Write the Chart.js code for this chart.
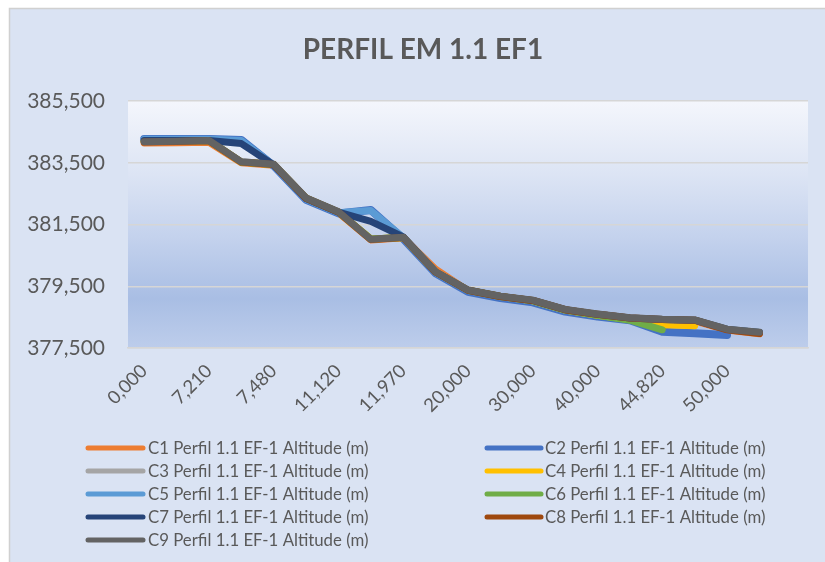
<!DOCTYPE html>
<html>
<head>
<meta charset="utf-8">
<script src="https://cdn.jsdelivr.net/npm/chart.js@4.4.0/dist/chart.umd.min.js"></script>
<style>
html,body{margin:0;padding:0;background:#fff;}
canvas{display:block;}
</style>
</head>
<body>
<canvas id="c" width="825" height="562"></canvas>
<script>
// ---- data ----
const categories = ["0,000","","7,210","","7,480","","11,120","","11,970","","20,000","","30,000","","40,000","","44,820","","50,000","",""];
const seriesNames = [
  "C1 Perfil 1.1 EF-1 Altitude (m)","C2 Perfil 1.1 EF-1 Altitude (m)","C3 Perfil 1.1 EF-1 Altitude (m)",
  "C4 Perfil 1.1 EF-1 Altitude (m)","C5 Perfil 1.1 EF-1 Altitude (m)","C6 Perfil 1.1 EF-1 Altitude (m)",
  "C7 Perfil 1.1 EF-1 Altitude (m)","C8 Perfil 1.1 EF-1 Altitude (m)","C9 Perfil 1.1 EF-1 Altitude (m)"
];
const seriesColors = ["#ED7D31","#4472C4","#A5A5A5","#FFC000","#5B9BD5","#70AD47","#264478","#9E480E","#636363"];
const C1 = [384.14,384.15,384.16,383.50,383.42,382.33,381.88,381.00,381.07,380.05,379.36,379.16,379.02,378.72,378.57,378.45,378.40,378.38,378.08,377.96,null];
const C2 = [384.27,384.27,384.27,384.24,383.40,382.30,381.86,381.97,381.04,379.92,379.32,379.12,378.98,378.68,378.52,378.40,378.03,377.98,377.92,null,null];
const C3 = [384.18,384.20,384.22,383.53,383.45,382.36,381.91,381.02,381.09,379.97,379.38,379.18,379.05,378.75,378.60,378.48,378.43,378.41,378.11,378.01,null];
const C4 = [384.20,384.21,384.22,383.52,383.44,382.35,381.90,381.03,381.08,379.96,379.37,379.17,379.03,378.73,378.56,378.42,378.25,378.22,null,null,null];
const C5 = [384.26,384.26,384.26,384.22,383.42,382.32,381.88,381.95,381.08,379.95,379.36,379.16,379.03,378.73,378.58,378.46,378.42,378.40,378.10,378.00,null];
const C6 = [384.20,384.21,384.22,383.52,383.44,382.35,381.90,381.03,381.08,379.96,379.37,379.17,379.03,378.73,378.56,378.40,378.09,null,null,null,null];
const C7 = [384.22,384.22,384.22,384.12,383.43,382.34,381.90,381.60,381.10,379.96,379.37,379.17,379.04,378.74,378.59,378.47,378.42,378.40,378.10,378.00,null];
const C8 = [384.17,384.19,384.21,383.52,383.44,382.35,381.90,381.01,381.08,379.96,379.37,379.17,379.04,378.74,378.59,378.47,378.42,378.40,378.09,377.97,null];
const C9 = [384.18,384.20,384.22,383.53,383.45,382.36,381.91,381.02,381.09,379.97,379.38,379.18,379.05,378.75,378.60,378.48,378.43,378.41,378.11,378.01,null];
const seriesValues = [C1,C2,C3,C4,C5,C6,C7,C8,C9];
const yMin = 377.5, yMax = 385.5, yStep = 2;
const titleText = "PERFIL EM 1.1 EF1";

const TEXT = "#595959";
const FONT = "Lato, 'Open Sans', sans-serif";

const bgPlugin = {
  id: 'bg',
  beforeDraw(chart) {
    const ctx = chart.ctx, a = chart.chartArea;
    ctx.save();
    ctx.fillStyle = '#ffffff';
    ctx.fillRect(0, 0, chart.width, chart.height);
    ctx.fillStyle = '#DAE3F3';
    ctx.fillRect(9, 8, chart.width, chart.height);
    ctx.strokeStyle = '#D0D0D0';
    ctx.lineWidth = 1.5;
    ctx.strokeRect(9.5, 8.5, chart.width + 10, chart.height + 10);
    const g = ctx.createLinearGradient(0, a.top, 0, a.bottom);
    g.addColorStop(0, '#F4F6FC');
    g.addColorStop(0.3, '#DCE4F4');
    g.addColorStop(0.55, '#C4D2ED');
    g.addColorStop(0.8, '#A9BEE4');
    g.addColorStop(1, '#BDCDEB');
    ctx.fillStyle = g;
    ctx.fillRect(a.left, a.top, a.right - a.left, a.bottom - a.top);
    // title
    ctx.fillStyle = TEXT;
    ctx.font = "bold 28px " + FONT;
    ctx.textAlign = 'center';
    ctx.textBaseline = 'middle';
    ctx.fillText(titleText, 423, 50);
    ctx.restore();
  },
  afterDraw(chart) {
    const ctx = chart.ctx;
    ctx.save();
    ctx.font = "16.8px " + FONT;
    ctx.textAlign = 'left';
    ctx.textBaseline = 'middle';
    const cols = [[88, 143, 148], [487, 541, 545]];
    const rowY = [448, 471, 494, 517, 540];
    chart.data.datasets.forEach((ds, i) => {
      const col = cols[i % 2], y = rowY[Math.floor(i / 2)];
      ctx.strokeStyle = ds.borderColor;
      ctx.lineWidth = 5;
      ctx.lineCap = 'round';
      ctx.beginPath();
      ctx.moveTo(col[0], y);
      ctx.lineTo(col[1], y);
      ctx.stroke();
      ctx.fillStyle = TEXT;
      ctx.fillText(ds.label, col[2], y + 1);
    });
    ctx.restore();
  }
};

const datasets = seriesValues.map((vals, i) => ({
  label: seriesNames[i],
  data: vals,
  borderColor: seriesColors[i],
  backgroundColor: seriesColors[i],
  borderWidth: i === 1 ? 8 : 7,
  pointRadius: 0,
  pointHoverRadius: 0,
  tension: 0,
  borderCapStyle: 'round',
  borderJoinStyle: 'round',
  spanGaps: false,
  order: seriesValues.length - 1 - i
}));

new Chart(document.getElementById('c'), {
  type: 'line',
  data: { labels: categories, datasets },
  options: {
    responsive: false,
    animation: false,
    events: [],
    layout: { padding: { top: 101, right: 17, bottom: 0, left: 0 } },
    plugins: { legend: { display: false }, title: { display: false }, tooltip: { enabled: false } },
    scales: {
      x: {
        offset: true,
        grid: { display: false, drawTicks: false },
        border: { display: true, color: '#D6D6D6', width: 1.5 },
        afterFit(s) { s.height = 214; },
        ticks: {
          autoSkip: false,
          maxRotation: 45, minRotation: 45,
          padding: 12,
          color: TEXT,
          font: { family: FONT, size: 18.5 },
          callback(v, i) { return categories[i]; }
        }
      },
      y: {
        min: yMin, max: yMax,
        afterFit(s) { s.width = 128; },
        grid: { color: '#D6D6D6', lineWidth: 1.5, drawTicks: false },
        border: { display: false },
        ticks: {
          stepSize: yStep,
          padding: 23,
          color: TEXT,
          font: { family: FONT, size: 21 },
          callback(v) { return v.toFixed(3).replace('.', ','); }
        }
      }
    }
  },
  plugins: [bgPlugin]
});
</script>
</body>
</html>
